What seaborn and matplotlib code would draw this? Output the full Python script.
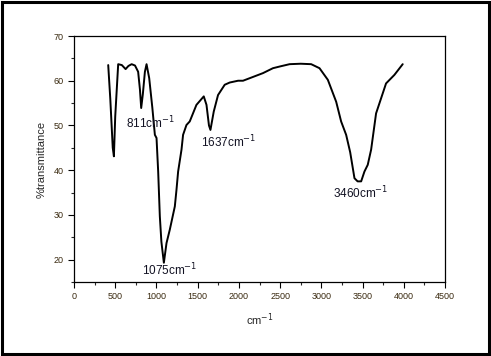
import matplotlib
matplotlib.use("Agg")
import matplotlib.pyplot as plt
import numpy as np
import pandas as pd
import seaborn as sns
from matplotlib.patches import Rectangle
from matplotlib.ticker import MultipleLocator

# FTIR spectrum (wavenumber, %transmittance)
wavenumber = [415, 440, 470, 484, 500, 536, 580, 626, 660, 699, 740, 778, 800, 815,
              835, 860, 880, 912, 950, 981, 1001, 1021, 1041, 1060, 1090, 1122, 1162,
              1223, 1243, 1263, 1304, 1323, 1364, 1404, 1485, 1574, 1607, 1637, 1655,
              1695, 1747, 1828, 1889, 1990, 2050, 2150, 2292, 2413, 2500, 2615, 2750,
              2877, 2978, 3079, 3180, 3240, 3301, 3350, 3402, 3440, 3483, 3523, 3563,
              3604, 3664, 3785, 3886, 3987]
transmittance = [63.5, 56.0, 45.0, 43.1, 52.0, 63.7, 63.5, 62.6, 63.3, 63.7, 63.4, 62.0,
                 58.0, 53.9, 57.0, 62.0, 63.7, 60.6, 54.0, 47.9, 47.2, 39.7, 29.7, 24.0,
                 19.3, 23.7, 26.7, 31.9, 35.6, 39.7, 44.6, 47.9, 50.1, 50.9, 54.6, 56.5,
                 54.6, 50.0, 49.0, 53.1, 56.8, 59.1, 59.6, 60.0, 60.0, 60.7, 61.7, 62.8,
                 63.2, 63.7, 63.8, 63.7, 62.8, 60.2, 55.3, 50.9, 47.9, 44.0, 38.2, 37.5,
                 37.5, 39.7, 41.2, 44.6, 52.7, 59.4, 61.3, 63.7]

peak_labels = ["811", "1637", "1075", "3460"]
label_x = [630, 1540, 820, 3145]
label_y = [50.6, 46.2, 17.6, 34.8]

spectrum = pd.DataFrame({"wavenumber": wavenumber, "transmittance": transmittance})

sns.set_style("ticks")
plt.rcParams["font.family"] = ["Liberation Sans", "DejaVu Sans"]

fig = plt.figure(figsize=(4.91, 3.56), dpi=100)
ax = fig.add_axes([74 / 491, (356 - 282) / 356, (445 - 74) / 491, (282 - 36) / 356])

sns.lineplot(data=spectrum, x="wavenumber", y="transmittance", sort=False,
             color="black", linewidth=1.4, ax=ax)

ax.set_xlim(0, 4500)
ax.set_ylim(15, 70)
ax.xaxis.set_major_locator(MultipleLocator(500))
ax.xaxis.set_minor_locator(MultipleLocator(250))
ax.yaxis.set_major_locator(MultipleLocator(10))
ax.yaxis.set_minor_locator(MultipleLocator(5))
ax.tick_params(which="major", direction="out", length=4, width=0.8, labelsize=6.5,
               colors="black")
ax.tick_params(which="minor", direction="out", length=2.5, width=0.8)
for lab in ax.get_xticklabels() + ax.get_yticklabels():
    lab.set_color("#3a2a10")
for s in ax.spines.values():
    s.set_linewidth(0.9)
    s.set_color("black")

ax.set_xlabel("cm$^{-1}$", fontsize=8, labelpad=7)
ax.set_ylabel("%transmittance", fontsize=8, labelpad=5)

for name, x, y in zip(peak_labels, label_x, label_y):
    ax.text(x, y, name + "cm$^{-1}$", fontsize=8.5, color="#111122", ha="left", va="center")

fig.patches.append(Rectangle((0.004, 0.006), 0.991, 0.988, transform=fig.transFigure,
                             fill=False, edgecolor="black", linewidth=2.2))

fig.savefig("out.png", dpi=100)
